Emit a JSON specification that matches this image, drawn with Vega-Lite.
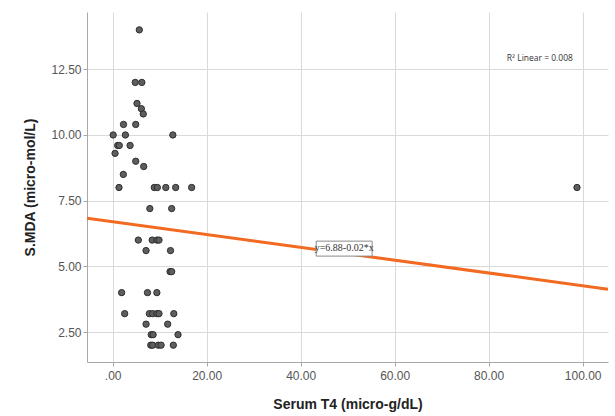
{
  "$schema": "https://vega.github.io/schema/vega-lite/v6.json",
  "width": 521,
  "height": 350,
  "autosize": {"type": "none"},
  "padding": {"left": 87, "top": 12, "right": 7, "bottom": 54},
  "background": "white",
  "config": {
    "view": {"stroke": null},
    "font": "Liberation Sans"
  },
  "encoding": {
    "x": {
      "field": "t4", "type": "quantitative",
      "scale": {"domain": [-5.47, 105.4], "nice": false, "zero": false},
      "axis": {
        "title": "Serum T4 (micro-g/dL)",
        "values": [0, 20, 40, 60, 80, 100],
        "labelExpr": "datum.value == 0 ? '.00' : format(datum.value, '.2f')",
        "grid": true, "gridColor": "#dadada", "gridWidth": 1,
        "domainColor": "#a8a8a8", "tickColor": "#a8a8a8", "tickSize": 4,
        "labelFont": "Liberation Sans", "labelFontSize": 12, "labelColor": "#555555", "labelPadding": 4,
        "titleFont": "Liberation Sans", "titleFontSize": 14, "titleFontWeight": "bold", "titleColor": "#222222",
        "titleY": 42, "titleBaseline": "middle"
      }
    },
    "y": {
      "field": "mda", "type": "quantitative",
      "scale": {"domain": [1.36, 14.68], "nice": false, "zero": false},
      "axis": {
        "title": "S.MDA (micro-mol/L)",
        "values": [2.5, 5, 7.5, 10, 12.5],
        "format": ".2f",
        "grid": true, "gridColor": "#dadada", "gridWidth": 1,
        "domainColor": "#a8a8a8", "tickColor": "#a8a8a8", "tickSize": 4,
        "labelFont": "Liberation Sans", "labelFontSize": 12, "labelColor": "#555555", "labelPadding": 2,
        "titleFont": "Liberation Sans", "titleFontSize": 14, "titleFontWeight": "bold", "titleColor": "#222222",
        "titleX": -57, "titleY": 175, "titleAngle": -90, "titleAlign": "center", "titleBaseline": "middle"
      }
    }
  },
  "layer": [
    {
      "data": {"values": [
        {"t4": 5.66, "mda": 14.0},
        {"t4": 4.8, "mda": 12.0}, {"t4": 6.2, "mda": 12.0},
        {"t4": 5.17, "mda": 11.2},
        {"t4": 6.1, "mda": 11.0},
        {"t4": 6.5, "mda": 10.8},
        {"t4": 2.3, "mda": 10.4}, {"t4": 4.9, "mda": 10.4},
        {"t4": 0.1, "mda": 10.0}, {"t4": 2.7, "mda": 10.0}, {"t4": 12.8, "mda": 10.0},
        {"t4": 1.06, "mda": 9.6}, {"t4": 1.4, "mda": 9.6}, {"t4": 3.7, "mda": 9.6},
        {"t4": 0.5, "mda": 9.3},
        {"t4": 4.9, "mda": 9.0},
        {"t4": 6.6, "mda": 8.8},
        {"t4": 2.26, "mda": 8.5},
        {"t4": 1.34, "mda": 8.0}, {"t4": 8.85, "mda": 8.0}, {"t4": 9.5, "mda": 8.0}, {"t4": 11.3, "mda": 8.0}, {"t4": 13.4, "mda": 8.0}, {"t4": 16.8, "mda": 8.0},
        {"t4": 7.9, "mda": 7.2}, {"t4": 12.55, "mda": 7.2},
        {"t4": 5.45, "mda": 6.0}, {"t4": 8.4, "mda": 6.0}, {"t4": 9.4, "mda": 6.0}, {"t4": 9.85, "mda": 6.0},
        {"t4": 7.1, "mda": 5.6}, {"t4": 12.3, "mda": 5.6},
        {"t4": 12.2, "mda": 4.8}, {"t4": 12.55, "mda": 4.8},
        {"t4": 1.9, "mda": 4.0}, {"t4": 7.4, "mda": 4.0}, {"t4": 9.4, "mda": 4.0},
        {"t4": 2.55, "mda": 3.2}, {"t4": 7.8, "mda": 3.2}, {"t4": 8.5, "mda": 3.2}, {"t4": 9.4, "mda": 3.2}, {"t4": 9.85, "mda": 3.2}, {"t4": 13.0, "mda": 3.2},
        {"t4": 7.1, "mda": 2.8}, {"t4": 11.7, "mda": 2.8},
        {"t4": 8.2, "mda": 2.4}, {"t4": 8.6, "mda": 2.4}, {"t4": 13.9, "mda": 2.4},
        {"t4": 8.1, "mda": 2.0}, {"t4": 8.5, "mda": 2.0}, {"t4": 9.7, "mda": 2.0}, {"t4": 10.3, "mda": 2.0}, {"t4": 12.9, "mda": 2.0},
        {"t4": 98.8, "mda": 8.0}
      ]},
      "mark": {"type": "point", "shape": "circle", "filled": true, "size": 40, "fill": "#5e5e5e", "stroke": "#2e2e2e", "strokeWidth": 1, "opacity": 1}
    },
    {
      "data": {"values": [{"t4": -5.47, "mda": 6.83}, {"t4": 105.4, "mda": 4.13}]},
      "mark": {"type": "line", "color": "#f26a22", "strokeWidth": 3, "clip": true}
    },
    {
      "data": {"values": [{"t4": 43.3, "t4b": 55.2, "mda": 5.39, "mdab": 5.96}]},
      "mark": {"type": "rect", "fill": "white", "stroke": "#8a8a8a", "strokeWidth": 1},
      "encoding": {"x2": {"field": "t4b"}, "y2": {"field": "mdab"}}
    },
    {
      "data": {"values": [{"t4": 49.25, "mda": 5.68, "label": "y=6.88-0.02*x"}]},
      "mark": {"type": "text", "font": "Liberation Sans Narrow", "fontSize": 10, "color": "#333333", "align": "center", "baseline": "middle"},
      "encoding": {"text": {"field": "label"}}
    },
    {
      "data": {"values": [{"t4": 90.9, "mda": 12.93, "label": "R² Linear = 0.008"}]},
      "mark": {"type": "text", "font": "Open Sans", "fontSize": 8.5, "color": "#333333", "align": "center", "baseline": "middle"},
      "encoding": {"text": {"field": "label"}}
    }
  ]
}
